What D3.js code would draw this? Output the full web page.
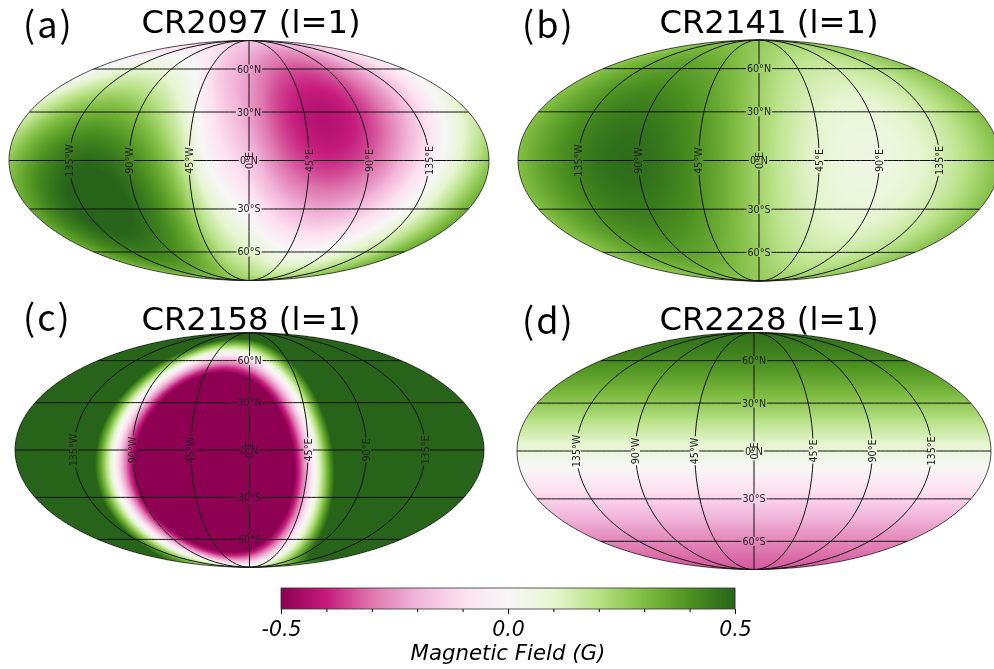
<!DOCTYPE html>
<html>
<head>
<meta charset="utf-8">
<style>
  html, body { margin: 0; background: #fff; overflow: hidden; }
  canvas, svg { position: absolute; left: 0; top: 0; }
  text { font-family: "DejaVu Sans", sans-serif; fill: #000; }
</style>
<script src="https://cdn.jsdelivr.net/npm/d3@7"></script>
</head>
<body>
<script>
// field values in gauss: rows 90N..90S every 30 deg,
// columns 180W..150E every 30 deg. values past +-0.5 saturate the colour scale
var cr2097 = [
  [-.153, -.153, -.153, -.153, -.153, -.153, -.153, -.153, -.153, -.153, -.153, -.153],
  [-.017, .062, .092, .062, -.017, -.16, -.235, -.314, -.343, -.314, -.235, -.126],
  [.137, .275, .326, .275, .137, -.09, -.24, -.378, -.428, -.378, -.24, -.051],
  [.267, .427, .485, .427, .267, -.01, -.167, -.327, -.385, -.327, -.167, .05],
  [.34, .478, .528, .478, .34, .11, -.037, -.175, -.226, -.175, -.037, .151],
  [.335, .414, .443, .414, .335, .2, .117, .038, .008, .038, .117, .226],
  [.253, .253, .253, .253, .253, .253, .253, .253, .253, .253, .253, .253]
];
var cr2141 = [
  [.265, .265, .265, .265, .265, .265, .265, .265, .265, .265, .265, .265],
  [.28, .331, .365, .371, .35, .305, .25, .199, .165, .159, .18, .225],
  [.291, .379, .438, .449, .411, .335, .239, .151, .092, .081, .119, .195],
  [.295, .397, .464, .478, .434, .346, .235, .133, .066, .052, .096, .184],
  [.291, .379, .438, .449, .411, .335, .239, .151, .092, .081, .119, .195],
  [.28, .331, .365, .371, .35, .305, .25, .199, .165, .159, .18, .225],
  [.265, .265, .265, .265, .265, .265, .265, .265, .265, .265, .265, .265]
];
var cr2158 = [
  [.82, .82, .82, .82, .82, .82, .82, .82, .82, .82, .82, .82],
  [1.65, 1.31, .82, .32, -.06, -.21, -.11, .23, .72, 1.22, 1.6, 1.75],
  [2.16, 1.57, .73, -.13, -.79, -1.06, -.88, -.29, .56, 1.42, 2.08, 2.35],
  [2.23, 1.54, .57, -.42, -1.18, -1.5, -1.29, -.6, .37, 1.36, 2.12, 2.44],
  [1.82, 1.23, .38, -.48, -1.14, -1.41, -1.22, -.63, .21, 1.07, 1.73, 2],
  [1.05, .71, .22, -.28, -.66, -.81, -.71, -.37, .12, .62, 1, 1.15],
  [.12, .12, .12, .12, .12, .12, .12, .12, .12, .12, .12, .12]
];
var cr2228 = [
  [.47, .47, .47, .47, .47, .47, .47, .47, .47, .47, .47, .47],
  [.416, .416, .416, .416, .416, .416, .416, .416, .416, .416, .416, .416],
  [.27, .27, .27, .27, .27, .27, .27, .27, .27, .27, .27, .27],
  [.07, .07, .07, .07, .07, .07, .07, .07, .07, .07, .07, .07],
  [-.13, -.13, -.13, -.13, -.13, -.13, -.13, -.13, -.13, -.13, -.13, -.13],
  [-.276, -.276, -.276, -.276, -.276, -.276, -.276, -.276, -.276, -.276, -.276, -.276],
  [-.33, -.33, -.33, -.33, -.33, -.33, -.33, -.33, -.33, -.33, -.33, -.33]
];

var panelLetters = ["(a)", "(b)", "(c)", "(d)"];
var panelTitles = ["CR2097 (l=1)", "CR2141 (l=1)", "CR2158 (l=1)", "CR2228 (l=1)"];
var panelFields = [cr2097, cr2141, cr2158, cr2228];
var lonTicks = [-135, -90, -45, 0, 45, 90, 135];
var latTicks = [-60, -30, 0, 30, 60];
var barMajorTicks = [-0.5, 0, 0.5];
var barMinorTicks = [-0.4, -0.3, -0.2, -0.1, 0.1, 0.2, 0.3, 0.4];
var colorStops = ["#8e0152", "#c51b7d", "#de77ae", "#f1b6da", "#fde0ef", "#f7f7f7",
  "#e6f5d0", "#b8e186", "#7fbc41", "#4d9221", "#276419"];

var width = 994, height = 669;

// where each map sits on the page
var layout = [
  {cx: 249, cy: 160.5, hw: 240, letterX: 23, letterY: 38, titleX: 251, titleY: 33},
  {cx: 759, cy: 160.5, hw: 241, letterX: 522, letterY: 38, titleX: 769, titleY: 33},
  {cx: 249.5, cy: 450, hw: 234.5, letterX: 23, letterY: 331, titleX: 251, titleY: 330},
  {cx: 754, cy: 451, hw: 237, letterX: 522, letterY: 334, titleX: 769, titleY: 330}
];

function mollweideRaw(lambda, phi) {
  var target = Math.PI * Math.sin(phi), theta = phi;
  for (var i = 0; i < 30; i++) {
    var delta = (2 * theta + Math.sin(2 * theta) - target) / (2 + 2 * Math.cos(2 * theta) + 1e-9);
    theta -= delta;
    if (Math.abs(delta) < 1e-8) break;
  }
  return [2 * Math.SQRT2 / Math.PI * lambda * Math.cos(theta), Math.SQRT2 * Math.sin(theta)];
}
mollweideRaw.invert = function (x, y) {
  var theta = Math.asin(y / Math.SQRT2);
  return [Math.PI * x / (2 * Math.SQRT2 * Math.cos(theta)),
    Math.asin((2 * theta + Math.sin(2 * theta)) / Math.PI)];
};

var barScale = d3.scaleLinear().domain([-0.5, 0.5]).range([281, 735]);
var colorScale = d3.scaleLinear()
    .domain(d3.range(11).map(function (i) { return -0.5 + i * 0.1; }))
    .range(colorStops)
    .clamp(true);
var colorTable = d3.range(1001).map(function (i) { return d3.rgb(colorScale(-0.5 + i / 1000)); });

function colorOf(value) {
  var i = Math.round((Math.max(-0.5, Math.min(0.5, value)) + 0.5) * 1000);
  return colorTable[i];
}

// grid lookup, going over the pole onto the opposite meridian
function gridValue(field, row, col) {
  if (row < 0) { row = -row; col += 6; }
  if (row > 6) { row = 12 - row; col += 6; }
  return field[row][((col % 12) + 12) % 12];
}

function cubic(a, b, c, d, t) {
  return b + 0.5 * t * (c - a + t * (2 * a - 5 * b + 4 * c - d + t * (3 * (b - c) + d - a)));
}

function sampleField(field, lon, lat) {
  var u = (lon + 180) / 30, v = (90 - lat) / 30;
  var c = Math.floor(u), r = Math.floor(v), tu = u - c, tv = v - r;
  var rows = [-1, 0, 1, 2].map(function (dr) {
    return cubic(gridValue(field, r + dr, c - 1), gridValue(field, r + dr, c),
        gridValue(field, r + dr, c + 1), gridValue(field, r + dr, c + 2), tu);
  });
  return cubic(rows[0], rows[1], rows[2], rows[3], tv);
}

var canvas = d3.select("body").append("canvas")
    .attr("width", width)
    .attr("height", height);
var ctx = canvas.node().getContext("2d");
var image = ctx.createImageData(width, height);
image.data.fill(255);

var svg = d3.select("body").append("svg")
    .attr("width", width)
    .attr("height", height);

function paintField(field, projection, box) {
  var hh = box.hw / 2;
  var x0 = Math.max(0, Math.floor(box.cx - box.hw)), x1 = Math.min(width - 1, Math.ceil(box.cx + box.hw));
  var y0 = Math.floor(box.cy - hh), y1 = Math.ceil(box.cy + hh);
  for (var y = y0; y <= y1; y++) {
    for (var x = x0; x <= x1; x++) {
      var ex = (x + 0.5 - box.cx) / box.hw, ey = (y + 0.5 - box.cy) / hh;
      if (ex * ex + ey * ey > 1) continue;
      var ll = projection.invert([x + 0.5, y + 0.5]);
      var rgb = colorOf(sampleField(field, ll[0], ll[1]));
      var k = (y * width + x) * 4;
      image.data[k] = rgb.r;
      image.data[k + 1] = rgb.g;
      image.data[k + 2] = rgb.b;
    }
  }
}

function lonLabel(d) { return Math.abs(d) + "°" + (d < 0 ? "W" : "E"); }
function latLabel(d) { return Math.abs(d) + "°" + (d < 0 ? "S" : "N"); }

function drawPanel(i) {
  var box = layout[i];
  var projection = d3.geoProjection(mollweideRaw)
      .scale(box.hw / (2 * Math.SQRT2))
      .translate([box.cx, box.cy])
      .precision(0.1);
  var path = d3.geoPath(projection);

  paintField(panelFields[i], projection, box);

  var lines = lonTicks.map(function (lon) {
    return {type: "LineString", coordinates: [[lon, -90], [lon, 0], [lon, 90]]};
  }).concat(latTicks.map(function (lat) {
    return {type: "LineString", coordinates: d3.range(-180, 180.1, 4).map(function (lon) { return [lon, lat]; })};
  }));

  var g = svg.append("g");
  var mask = g.append("mask")
      .attr("id", "gaps" + i)
      .attr("maskUnits", "userSpaceOnUse")
      .attr("x", 0).attr("y", 0)
      .attr("width", width).attr("height", height);
  mask.append("rect")
      .attr("width", width).attr("height", height)
      .attr("fill", "#fff");

  g.append("g")
      .attr("mask", "url(#gaps" + i + ")")
    .selectAll("path")
      .data(lines)
    .enter().append("path")
      .attr("d", path)
      .attr("fill", "none")
      .attr("stroke", "#111")
      .attr("stroke-width", 1);

  g.append("path")
      .datum({type: "Sphere"})
      .attr("d", path)
      .attr("fill", "none")
      .attr("stroke", "#222")
      .attr("stroke-width", 0.8);

  // grid lines stop at the tick labels, so cut holes for them once measured
  g.selectAll("text.lat")
      .data(latTicks)
    .enter().append("text")
      .attr("class", "lat")
      .attr("x", function (d) { return projection([0, d])[0]; })
      .attr("y", function (d) { return projection([0, d])[1]; })
      .attr("text-anchor", "middle")
      .attr("dominant-baseline", "central")
      .attr("font-size", 9.6)
      .style("fill", "#222")
      .text(latLabel)
      .each(function () {
        var b = this.getBBox();
        mask.append("rect")
            .attr("x", b.x - 1).attr("y", b.y + 1)
            .attr("width", b.width + 2).attr("height", b.height - 2)
            .attr("fill", "#000");
      });

  g.selectAll("text.lon")
      .data(lonTicks)
    .enter().append("text")
      .attr("class", "lon")
      .attr("transform", function (d) {
        var p = projection([d, 0]);
        return "translate(" + p[0] + "," + p[1] + ") rotate(-90)";
      })
      .attr("text-anchor", "middle")
      .attr("dominant-baseline", "central")
      .attr("font-size", 9.6)
      .style("fill", "#222")
      .text(lonLabel)
      .each(function (d) {
        var b = this.getBBox(), p = projection([d, 0]);
        mask.append("rect")
            .attr("x", p[0] + b.y + 1).attr("y", p[1] - b.x - b.width - 1)
            .attr("width", b.height - 2).attr("height", b.width + 2)
            .attr("fill", "#000");
      });

  g.append("text")
      .attr("x", box.titleX)
      .attr("y", box.titleY)
      .attr("text-anchor", "middle")
      .attr("font-size", 32.3)
      .text(panelTitles[i]);

  g.append("text")
      .attr("x", box.letterX)
      .attr("y", box.letterY)
      .attr("font-size", 36)
      .attr("letter-spacing", 2)
      .style("font-family", '"Noto Sans CJK JP", sans-serif')
      .text(panelLetters[i]);
}

d3.range(4).forEach(drawPanel);
ctx.putImageData(image, 0, 0);

// colour bar
var barTop = 588, barHeight = 21;
var barGroup = svg.append("g");
barGroup.selectAll("rect")
    .data(d3.range(barScale.range()[0], barScale.range()[1]))
  .enter().append("rect")
    .attr("x", function (d) { return d; })
    .attr("y", barTop)
    .attr("width", 1.2)
    .attr("height", barHeight)
    .attr("fill", function (d) { return colorScale(barScale.invert(d + 0.5)); });
barGroup.append("rect")
    .attr("x", barScale(-0.5))
    .attr("y", barTop)
    .attr("width", barScale(0.5) - barScale(-0.5))
    .attr("height", barHeight)
    .attr("fill", "none")
    .attr("stroke", "#333")
    .attr("stroke-width", 0.8);

var minorAxis = d3.axisBottom(barScale)
    .tickValues(barMinorTicks)
    .tickSize(3)
    .tickFormat("");
svg.append("g")
    .attr("transform", "translate(0," + (barTop + barHeight) + ")")
    .call(minorAxis)
    .call(function (a) { a.select(".domain").remove(); });

var majorAxis = d3.axisBottom(barScale)
    .tickValues(barMajorTicks)
    .tickSize(5)
    .tickPadding(7)
    .tickFormat(d3.format(".1f"));
svg.append("g")
    .attr("transform", "translate(0," + (barTop + barHeight) + ")")
    .call(majorAxis)
    .call(function (a) {
      a.select(".domain").remove();
      a.selectAll("text")
          .attr("font-size", 20.5)
          .style("font-family", '"DejaVu Sans", sans-serif')
          .style("font-style", "italic")
          .text(function (d) { return d3.format(".1f")(d).replace("−", "-"); });
    });

svg.append("text")
    .attr("x", barScale(0))
    .attr("y", 660)
    .attr("text-anchor", "middle")
    .attr("font-size", 21.3)
    .style("font-style", "italic")
    .text("Magnetic Field (G)");
</script>
</body>
</html>
